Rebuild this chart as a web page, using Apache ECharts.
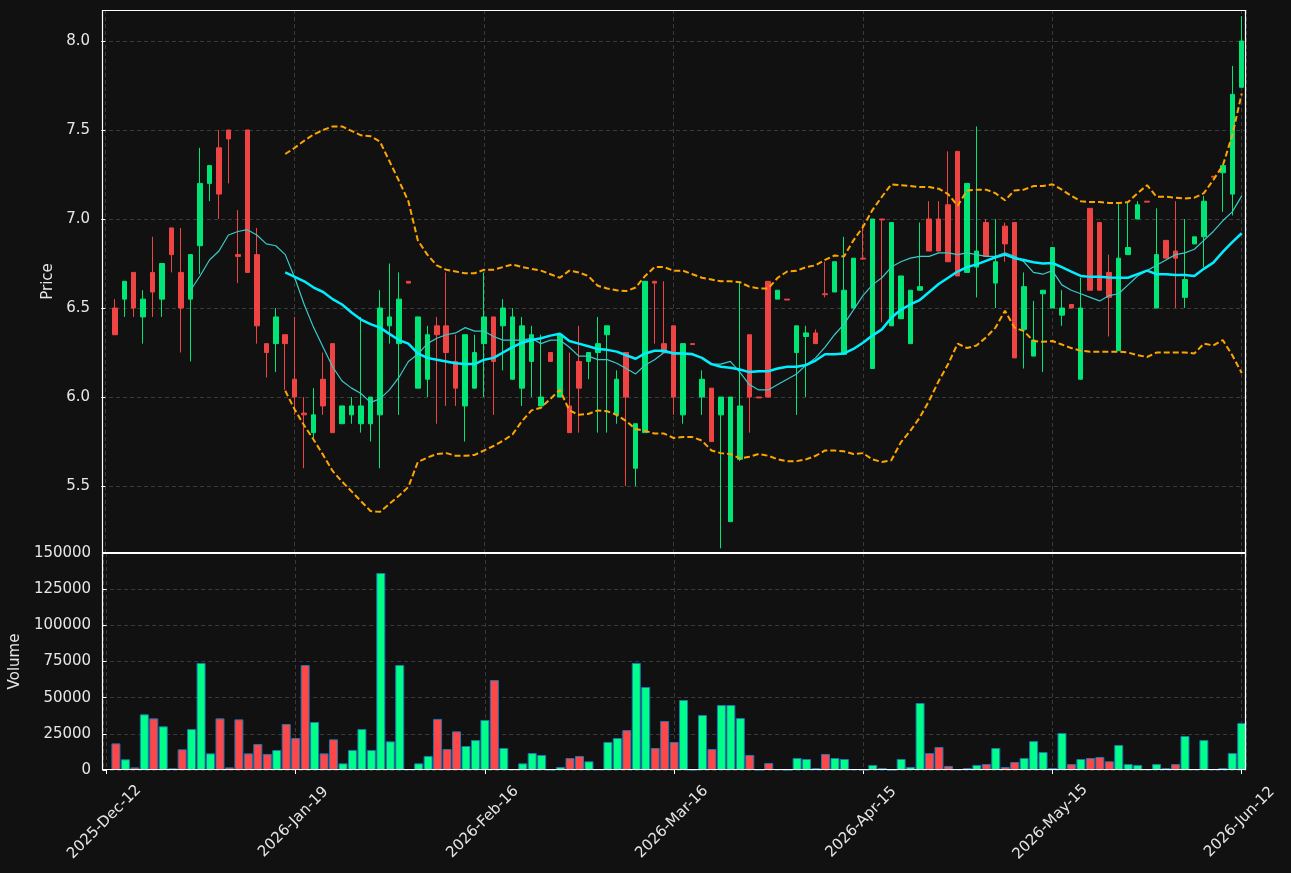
<!DOCTYPE html>
<html>
<head>
<meta charset="utf-8">
<title>Price / Volume</title>
<script src="https://cdn.jsdelivr.net/npm/echarts@6/dist/echarts.min.js"></script>
<style>
    html, body { margin: 0; padding: 0; background: #111111; }
    #chart { width: 1291px; height: 873px; }
</style>
</head>
<body>
<div id="chart"></div>
<script>
'use strict';

// one row per trading bar, index 0..119
var opens = [
    6.50, 6.55, 6.70, 6.45, 6.70, 6.55, 6.95, 6.70, 6.55, 6.85,
    7.20, 7.40, 7.50, 6.80, 7.50, 6.80, 6.30, 6.30, 6.35, 6.10,
    5.91, 5.80, 6.10, 6.30, 5.85, 5.90, 5.85, 5.85, 5.90, 6.40,
    6.30, 6.65, 6.05, 6.10, 6.40, 6.40, 6.20, 5.95, 6.05, 6.30,
    6.45, 6.40, 6.10, 6.05, 6.20, 5.95, 6.25, 6.00, 5.95, 6.20,
    6.20, 6.25, 6.35, 5.90, 6.25, 5.60, 5.80, 6.65, 6.30, 6.40,
    5.90, 6.30, 6.00, 6.05, 5.90, 5.30, 5.65, 6.35, 6.00, 6.65,
    6.55, 6.55, 6.25, 6.34, 6.36, 6.58, 6.59, 6.24, 6.50, 6.78,
    6.16, 7.00, 6.40, 6.44, 6.30, 6.60, 7.00, 7.00, 7.08, 7.38,
    6.70, 6.73, 6.98, 6.64, 6.96, 6.98, 6.38, 6.23, 6.58, 6.50,
    6.46, 6.52, 6.10, 7.06, 6.98, 6.70, 6.26, 6.80, 7.00, 7.10,
    6.50, 6.88, 6.82, 6.56, 6.86, 6.90, 7.24, 7.26, 7.14, 7.74
];
var closes = [
    6.35, 6.65, 6.50, 6.55, 6.59, 6.75, 6.80, 6.50, 6.80, 7.20,
    7.30, 7.14, 7.45, 6.79, 6.70, 6.40, 6.25, 6.45, 6.30, 6.00,
    5.90, 5.90, 5.95, 5.80, 5.95, 5.95, 5.95, 6.00, 6.50, 6.45,
    6.55, 6.64, 6.45, 6.35, 6.35, 6.25, 6.05, 6.35, 6.25, 6.45,
    6.20, 6.50, 6.45, 6.40, 6.35, 6.00, 6.20, 6.35, 5.80, 6.05,
    6.25, 6.30, 6.40, 6.10, 6.00, 5.85, 6.65, 6.64, 6.25, 6.00,
    6.30, 6.295, 6.10, 5.75, 6.00, 6.00, 5.95, 6.00, 5.995, 6.00,
    6.60, 6.545, 6.40, 6.36, 6.30, 6.575, 6.76, 6.60, 6.78, 6.775,
    7.00, 6.995, 6.98, 6.68, 6.60, 6.62, 6.82, 6.82, 6.76, 6.68,
    7.20, 6.82, 6.79, 6.76, 6.86, 6.22, 6.62, 6.32, 6.60, 6.84,
    6.50, 6.50, 6.50, 6.60, 6.60, 6.56, 6.78, 6.84, 7.08, 7.095,
    6.80, 6.78, 6.78, 6.66, 6.90, 7.10, 7.235, 7.30, 7.70, 8.00
];
var lows = [
    6.35, 6.45, 6.45, 6.30, 6.45, 6.45, 6.70, 6.25, 6.20, 6.69,
    7.10, 7.00, 7.20, 6.64, 6.70, 6.30, 6.11, 6.14, 6.04, 5.90,
    5.60, 5.77, 5.90, 5.80, 5.85, 5.85, 5.80, 5.75, 5.60, 6.30,
    5.90, 6.64, 6.05, 6.00, 5.85, 5.95, 5.95, 5.75, 6.05, 6.00,
    5.90, 6.15, 6.10, 5.95, 6.00, 5.95, 6.20, 6.00, 5.80, 5.80,
    6.10, 5.80, 5.80, 5.85, 5.50, 5.50, 5.80, 6.30, 6.25, 5.90,
    5.85, 6.295, 5.90, 5.75, 5.15, 5.30, 5.64, 5.80, 5.995, 6.00,
    6.55, 6.545, 5.90, 6.00, 6.30, 6.56, 6.59, 6.24, 6.50, 6.77,
    6.16, 6.42, 6.40, 6.44, 6.30, 6.60, 6.82, 6.82, 6.76, 6.68,
    6.70, 6.56, 6.79, 6.50, 6.76, 6.22, 6.16, 6.23, 6.14, 6.50,
    6.40, 6.50, 6.10, 6.60, 6.60, 6.34, 6.26, 6.80, 7.00, 7.095,
    6.50, 6.78, 6.50, 6.50, 6.86, 6.73, 7.235, 7.04, 7.02, 7.74
];
var highs = [
    6.55, 6.65, 6.70, 6.60, 6.90, 6.75, 6.95, 6.95, 6.80, 7.40,
    7.30, 7.50, 7.50, 7.05, 7.50, 6.95, 6.30, 6.50, 6.35, 6.45,
    6.00, 6.05, 6.25, 6.30, 5.95, 6.00, 6.45, 6.00, 6.60, 6.75,
    6.70, 6.65, 6.45, 6.40, 6.45, 6.70, 6.35, 6.35, 6.35, 6.70,
    6.45, 6.55, 6.50, 6.45, 6.40, 6.35, 6.25, 6.35, 6.25, 6.40,
    6.25, 6.45, 6.40, 6.15, 6.25, 5.85, 6.65, 6.65, 6.65, 6.40,
    6.30, 6.30, 6.15, 6.05, 6.00, 6.00, 6.65, 6.35, 6.00, 6.65,
    6.60, 6.55, 6.40, 6.40, 6.38, 6.76, 6.76, 6.90, 6.78, 6.97,
    7.00, 7.00, 6.98, 6.68, 6.60, 6.98, 7.10, 7.10, 7.38, 7.38,
    7.20, 7.52, 7.00, 7.00, 6.98, 6.98, 6.70, 6.54, 6.60, 6.84,
    6.60, 6.52, 6.67, 7.06, 6.98, 6.80, 7.09, 7.09, 7.10, 7.10,
    7.06, 6.88, 7.10, 7.00, 6.90, 7.13, 7.24, 7.30, 7.86, 8.14
];
var volumes = [
    18400, 7400, 1800, 38500, 35700, 30200, 1200, 14300, 28300, 74000,
    11500, 35700, 1800, 35000, 11500, 18000, 11100, 13800, 31800, 22100,
    72600, 33200, 11500, 21200, 4600, 13800, 28300, 13800, 136200, 19800,
    72600, 500, 4600, 9700, 35300, 14500, 26700, 16600, 20700, 34600,
    62200, 15200, 500, 4600, 11700, 10400, 200, 2100, 8300, 9700,
    6000, 500, 19400, 22100, 27600, 74000, 57400, 15200, 33900, 19400,
    48400, 100, 38000, 14500, 44900, 44900, 35900, 10400, 100, 4800,
    500, 100, 8300, 7600, 1400, 11100, 8300, 7600, 500, 100,
    3500, 1400, 100, 7600, 2100, 46300, 11700, 15900, 2800, 500,
    1400, 3500, 4100, 15200, 2100, 5500, 8300, 20000, 12400, 1400,
    25600, 4100, 7600, 8300, 9000, 6000, 17300, 4100, 3500, 500,
    4100, 1400, 4100, 23500, 500, 20700, 500, 1400, 11700, 32500
];

// thin moving average, first value at bar 8
var maFastStart = 8;
var maFast = [
    6.60, 6.68, 6.77, 6.82, 6.91, 6.93, 6.94, 6.91, 6.86, 6.85,
    6.80, 6.67, 6.52, 6.39, 6.28, 6.17, 6.09, 6.05, 6.02, 5.97,
    5.99, 6.04, 6.11, 6.20, 6.24, 6.30, 6.33, 6.35, 6.36, 6.39,
    6.37, 6.37, 6.34, 6.32, 6.32, 6.32, 6.33, 6.30, 6.32, 6.32,
    6.28, 6.23, 6.23, 6.21, 6.21, 6.19, 6.16, 6.13, 6.18, 6.21,
    6.25, 6.25, 6.245, 6.245, 6.22, 6.185, 6.185, 6.20, 6.14, 6.07,
    6.04, 6.04, 6.07, 6.10, 6.13, 6.18, 6.22, 6.28, 6.35, 6.41,
    6.49, 6.57, 6.63, 6.67, 6.73, 6.76, 6.78, 6.79, 6.79, 6.81,
    6.81, 6.80, 6.81, 6.80, 6.79, 6.79, 6.81, 6.79, 6.76, 6.70,
    6.69, 6.71, 6.63, 6.60, 6.58, 6.56, 6.54, 6.57, 6.58, 6.63,
    6.68, 6.71, 6.74, 6.77, 6.80, 6.81, 6.83, 6.88, 6.93, 6.99,
    7.04, 7.13
];

// thick moving average and bands around it, first value at bar 18
var bandStart = 18;
var maSlow = [
    6.70, 6.675, 6.65, 6.615, 6.59, 6.55, 6.52, 6.475, 6.435, 6.41,
    6.39, 6.355, 6.32, 6.30, 6.245, 6.22, 6.21, 6.20, 6.19, 6.185,
    6.185, 6.21, 6.22, 6.25, 6.28, 6.305, 6.32, 6.33, 6.345, 6.355,
    6.315, 6.30, 6.285, 6.27, 6.265, 6.255, 6.235, 6.215, 6.245, 6.26,
    6.26, 6.245, 6.245, 6.24, 6.22, 6.185, 6.17, 6.165, 6.155, 6.14,
    6.145, 6.145, 6.16, 6.17, 6.17, 6.18, 6.205, 6.24, 6.24, 6.245,
    6.27, 6.305, 6.345, 6.38, 6.445, 6.49, 6.52, 6.545, 6.59, 6.635,
    6.67, 6.705, 6.73, 6.745, 6.765, 6.785, 6.80, 6.78, 6.77, 6.757,
    6.75, 6.753, 6.73, 6.705, 6.68, 6.675, 6.675, 6.672, 6.67, 6.67,
    6.69, 6.71, 6.69, 6.69, 6.685, 6.685, 6.68, 6.72, 6.755, 6.815,
    6.87, 6.92
];
var bandUpper = [
    7.365, 7.40, 7.44, 7.475, 7.50, 7.52, 7.52, 7.495, 7.47, 7.465,
    7.435, 7.325, 7.215, 7.10, 6.88, 6.80, 6.74, 6.715, 6.705, 6.695,
    6.695, 6.715, 6.715, 6.73, 6.745, 6.73, 6.72, 6.71, 6.69, 6.67,
    6.71, 6.70, 6.68, 6.625, 6.61, 6.60, 6.595, 6.615, 6.68, 6.73,
    6.73, 6.71, 6.71, 6.69, 6.67, 6.66, 6.65, 6.65, 6.645, 6.62,
    6.61, 6.61, 6.67, 6.705, 6.71, 6.73, 6.74, 6.77, 6.795, 6.79,
    6.88, 6.955, 7.05, 7.125, 7.195, 7.19, 7.185, 7.18, 7.18, 7.17,
    7.14, 7.075, 7.16, 7.165, 7.165, 7.145, 7.105, 7.16, 7.165, 7.185,
    7.185, 7.195, 7.165, 7.13, 7.10, 7.095, 7.095, 7.09, 7.09, 7.095,
    7.145, 7.19, 7.125, 7.125, 7.12, 7.115, 7.12, 7.145, 7.22, 7.30,
    7.47, 7.705
];
var bandLower = [
    6.035, 5.93, 5.84, 5.76, 5.675, 5.585, 5.525, 5.47, 5.415, 5.36,
    5.355, 5.40, 5.445, 5.495, 5.635, 5.66, 5.68, 5.685, 5.67, 5.67,
    5.675, 5.70, 5.725, 5.755, 5.79, 5.865, 5.925, 5.94, 5.99, 6.04,
    5.925, 5.90, 5.905, 5.925, 5.92, 5.90, 5.865, 5.82, 5.81, 5.795,
    5.795, 5.77, 5.775, 5.775, 5.755, 5.70, 5.685, 5.68, 5.655, 5.665,
    5.68, 5.67, 5.65, 5.64, 5.64, 5.65, 5.67, 5.70, 5.70, 5.695,
    5.68, 5.685, 5.65, 5.635, 5.645, 5.745, 5.81, 5.885, 5.98, 6.09,
    6.185, 6.30, 6.275, 6.29, 6.335, 6.39, 6.485, 6.39, 6.37, 6.315,
    6.31, 6.315, 6.295, 6.275, 6.26, 6.255, 6.255, 6.255, 6.255, 6.25,
    6.235, 6.225, 6.25, 6.25, 6.25, 6.25, 6.245, 6.30, 6.29, 6.32,
    6.235, 6.135
];

// date labels, one every 20 positions on the x axis (position 0 sits one bar before the first candle)
var tickLabels = ['2025-Dec-12', '2026-Jan-19', '2026-Feb-16', '2026-Mar-16',
    '2026-Apr-15', '2026-May-15', '2026-Jun-12'];
var X_OFFSET = 1;

var UP = '#00e676';
var DOWN = '#ef4444';
var UP_VOL = '#00ff88';
var DOWN_VOL = '#ff4747';
var TEXT = '#e6e6e6';
var GRID_LINE = '#3a3a3a';
var FONT = 'DejaVu Sans';
var FONT_SIZE = 15;

// panel boxes, in pixels
var PRICE_BOX = { left: 102, top: 10, width: 1144, height: 543 };
var VOLUME_BOX = { left: 102, top: 553, width: 1144, height: 217 };

function toPoints(values, start) {
    return values.map(function (v, k) {
        return [start + k + X_OFFSET, v];
    });
}

var candles = [];
var volumeBars = [];
for (var i = 0; i < opens.length; i++) {
    candles.push([i + X_OFFSET, opens[i], closes[i], lows[i], highs[i]]);
    var up = closes[i] >= opens[i];
    volumeBars.push({
        value: [i + X_OFFSET, volumes[i]],
        itemStyle: { color: up ? UP_VOL : DOWN_VOL }
    });
}

var splitLine = { show: true, lineStyle: { color: GRID_LINE, type: [4, 3], width: 1 } };
var tick = { show: true, length: 4, inside: false, lineStyle: { color: '#ffffff' } };

function xAxisFor(gridIndex, withLabels) {
    return {
        type: 'value',
        gridIndex: gridIndex,
        min: -0.35,
        max: 120.45,
        minInterval: 20,
        maxInterval: 20,
        axisLine: { show: false },
        axisTick: withLabels ? tick : { show: false },
        splitLine: splitLine,
        axisLabel: {
            show: withLabels,
            showMinLabel: false,
            showMaxLabel: false,
            rotate: 45,
            align: 'center',
            verticalAlign: 'middle',
            margin: 50,
            padding: [0, 6, 0, 0],
            color: TEXT,
            fontFamily: FONT,
            fontSize: FONT_SIZE,
            formatter: function (v) {
                var k = Math.round(v / 20);
                return Math.abs(v - k * 20) < 1e-6 && tickLabels[k] ? tickLabels[k] : '';
            }
        }
    };
}

function frame(box) {
    return {
        type: 'rect',
        z: 100,
        silent: true,
        shape: { x: box.left + 0.5, y: box.top + 0.5, width: box.width - 1, height: box.height - 1 },
        style: { fill: 'none', stroke: '#ffffff', lineWidth: 1.2 }
    };
}

var chart = echarts.init(document.getElementById('chart'), null, { renderer: 'canvas' });

chart.setOption({
    backgroundColor: '#111111',
    animation: false,
    grid: [
        { left: PRICE_BOX.left, top: PRICE_BOX.top, width: PRICE_BOX.width, height: PRICE_BOX.height, show: false },
        { left: VOLUME_BOX.left, top: VOLUME_BOX.top, width: VOLUME_BOX.width, height: VOLUME_BOX.height, show: false }
    ],
    graphic: [frame(PRICE_BOX), frame(VOLUME_BOX)],
    xAxis: [xAxisFor(0, false), xAxisFor(1, true)],
    yAxis: [
        {
            type: 'value',
            gridIndex: 0,
            min: 5.124,
            max: 8.174,
            minInterval: 0.5,
            maxInterval: 0.5,
            name: 'Price',
            nameLocation: 'middle',
            nameGap: 39,
            nameTextStyle: { color: TEXT, fontFamily: FONT, fontSize: FONT_SIZE },
            axisLine: { show: false },
            axisTick: tick,
            splitLine: splitLine,
            axisLabel: {
                showMinLabel: false,
                showMaxLabel: false,
                margin: 12,
                color: TEXT,
                fontFamily: FONT,
                fontSize: FONT_SIZE,
                formatter: function (v) { return v.toFixed(1); }
            }
        },
        {
            type: 'value',
            gridIndex: 1,
            min: 0,
            max: 150000,
            interval: 25000,
            name: 'Volume',
            nameLocation: 'middle',
            nameGap: 80,
            nameTextStyle: { color: TEXT, fontFamily: FONT, fontSize: FONT_SIZE },
            axisLine: { show: false },
            axisTick: tick,
            splitLine: splitLine,
            axisLabel: {
                margin: 12,
                color: TEXT,
                fontFamily: FONT,
                fontSize: FONT_SIZE,
                formatter: function (v) { return String(v); }
            }
        }
    ],
    series: [
        {
            type: 'candlestick',
            xAxisIndex: 0,
            yAxisIndex: 0,
            barWidth: 5,
            data: candles,
            itemStyle: {
                color: UP,
                color0: DOWN,
                borderColor: UP,
                borderColor0: DOWN,
                borderWidth: 1
            },
            z: 2
        },
        {
            type: 'line',
            data: toPoints(maFast, maFastStart),
            showSymbol: false,
            symbol: 'none',
            lineStyle: { color: '#3cc9c9', width: 1.2 },
            z: 3
        },
        {
            type: 'line',
            data: toPoints(maSlow, bandStart),
            showSymbol: false,
            symbol: 'none',
            lineStyle: { color: '#00eeff', width: 2.5 },
            z: 4
        },
        {
            type: 'line',
            data: toPoints(bandUpper, bandStart),
            showSymbol: false,
            symbol: 'none',
            lineStyle: { color: '#ffa500', width: 2, type: [6, 3] },
            z: 4
        },
        {
            type: 'line',
            data: toPoints(bandLower, bandStart),
            showSymbol: false,
            symbol: 'none',
            lineStyle: { color: '#ffa500', width: 2, type: [6, 3] },
            z: 4
        },
        {
            type: 'bar',
            xAxisIndex: 1,
            yAxisIndex: 1,
            barWidth: 9,
            data: volumeBars,
            itemStyle: { borderColor: '#1f77b4', borderWidth: 1 }
        }
    ]
});
</script>
</body>
</html>
